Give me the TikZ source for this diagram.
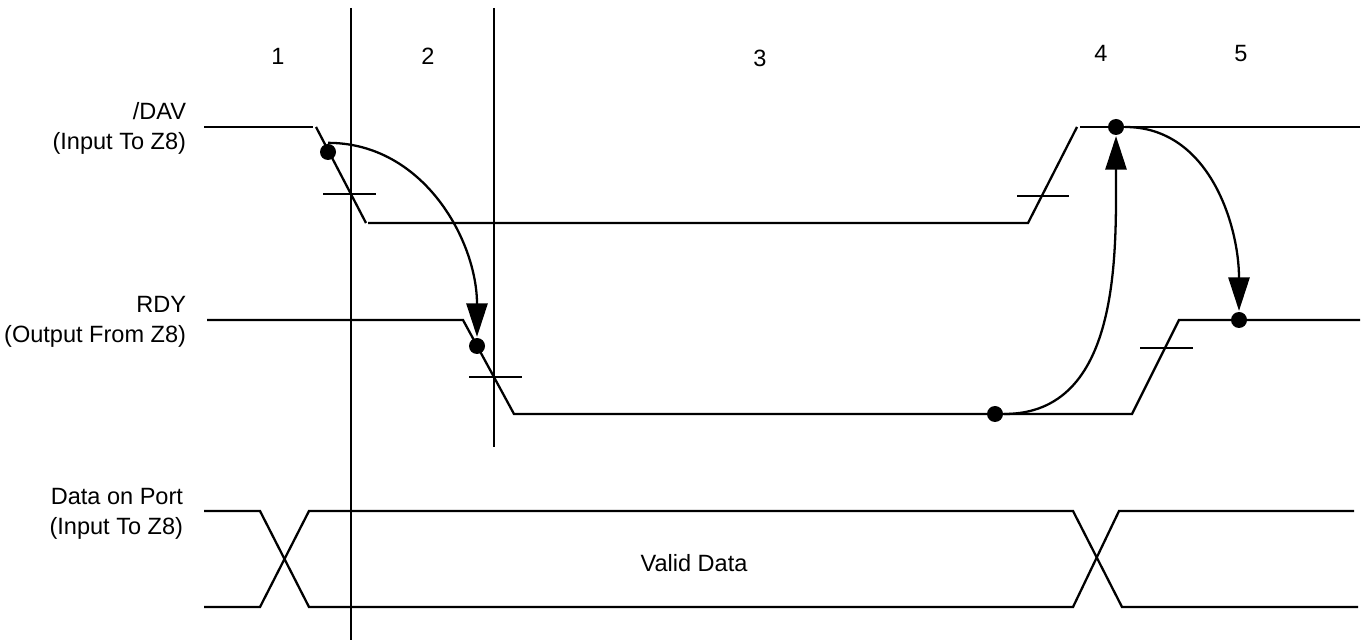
\documentclass[tikz,border=0pt]{standalone}
\usepackage{fontspec}
\setmainfont{Liberation Sans}
\usetikzlibrary{arrows.meta}

\begin{document}
\begin{tikzpicture}[x=0.02cm, y=0.02cm, line width=1.3pt,
    >={Triangle[length=19pt, width=12pt]},
    edgedot/.style={circle, fill, inner sep=0pt, minimum size=0.32cm},
    signame/.style={anchor=east, align=right, font=\fontsize{13.4}{17}\selectfont},
    txt/.style={font=\fontsize{13.4}{17}\selectfont}]
    \useasboundingbox (0,0) rectangle (1364,-644);
    % phase numbers
    \node[txt] (ph1) at (278,-56) {1};
    \node[txt] (ph2) at (428,-56) {2};
    \node[txt] (ph3) at (760,-58) {3};
    \node[txt] (ph4) at (1101,-53) {4};
    \node[txt] (ph5) at (1241,-54) {5};
    % phase boundaries
    \draw (351,-8) -- (351,-640);
    \draw (494,-8) -- (494,-447);
    % /DAV
    \node[signame] (davlbl) at (193,-128) {/DAV\\(Input To Z8)};
    \draw (204,-127) -- (313,-127);
    \draw (316,-127) -- (366,-223);
    \draw (368,-223) -- (1028,-223) -- (1077,-127);
    \draw (1080,-127) -- (1360,-127);
    \draw (323,-194) -- (376,-194);
    \draw (1017,-196) -- (1069,-196);
    % RDY
    \node[signame] (rdylbl) at (193,-322) {RDY\\(Output From Z8)};
    \draw (207,-320) -- (463,-320) -- (514,-414) -- (1132,-414) -- (1179,-320) -- (1360,-320);
    \draw (469,-377) -- (522,-377);
    \draw (1140,-348) -- (1193,-348);
    % data on port
    \node[signame] (datlbl) at (190,-514) {Data on Port\\(Input To Z8)};
    \draw (204,-511) -- (260,-511) -- (309,-607) -- (1073,-607) -- (1119,-511) -- (1354,-511);
    \draw (204,-607) -- (260,-607) -- (309,-511) -- (1073,-511) -- (1122,-607) -- (1358,-607);
    \node[txt] (valid) at (694,-563) {Valid Data};
    % handshake events
    \node[edgedot] (davfall) at (328,-152) {};
    \node[edgedot] (rdyfall) at (477,-346) {};
    \node[edgedot] (rdylow) at (995,-414) {};
    \node[edgedot] (davrise) at (1116,-127) {};
    \node[edgedot] (rdyrise) at (1239,-320) {};
    \draw[->] (davfall.north) to[out=0, in=90] (rdyfall);
    \draw[->] (rdylow) to[out=0, in=-90] (davrise);
    \draw[->] (davrise) to[out=0, in=90] (rdyrise);
\end{tikzpicture}
\end{document}
